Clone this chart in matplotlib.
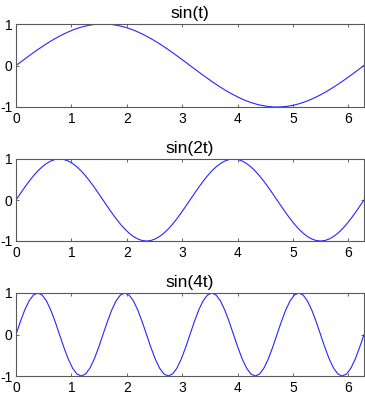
import numpy as np
import matplotlib
matplotlib.use("Agg")
import matplotlib.pyplot as plt

# t grid: 81 samples over [0, 2*pi]
t = np.linspace(0, 2 * np.pi, 81)

titles = ["sin(t)", "sin(2t)", "sin(4t)"]

sin_t = [0, .078, .156, .233, .309, .383, .454, .522, .588, .649, .707, .760, .809, .853, .891, .924, .951, .972, .988, .997, 1.0,
         .997, .988, .972, .951, .924, .891, .853, .809, .760, .707, .649, .588, .522, .454, .383, .309, .233, .156, .078, 0,
         -.078, -.156, -.233, -.309, -.383, -.454, -.522, -.588, -.649, -.707, -.760, -.809, -.853, -.891, -.924, -.951, -.972, -.988, -.997, -1.0,
         -.997, -.988, -.972, -.951, -.924, -.891, -.853, -.809, -.760, -.707, -.649, -.588, -.522, -.454, -.383, -.309, -.233, -.156, -.078, 0]

sin_2t = [0, .156, .309, .454, .588, .707, .809, .891, .951, .988, 1.0, .988, .951, .891, .809, .707, .588, .454, .309, .156,
          0, -.156, -.309, -.454, -.588, -.707, -.809, -.891, -.951, -.988, -1.0, -.988, -.951, -.891, -.809, -.707, -.588, -.454, -.309, -.156,
          0, .156, .309, .454, .588, .707, .809, .891, .951, .988, 1.0, .988, .951, .891, .809, .707, .588, .454, .309, .156,
          0, -.156, -.309, -.454, -.588, -.707, -.809, -.891, -.951, -.988, -1.0, -.988, -.951, -.891, -.809, -.707, -.588, -.454, -.309, -.156,
          0]

sin_4t = [0, .309, .588, .809, .951, 1.0, .951, .809, .588, .309, 0, -.309, -.588, -.809, -.951, -1.0, -.951, -.809, -.588, -.309,
          0, .309, .588, .809, .951, 1.0, .951, .809, .588, .309, 0, -.309, -.588, -.809, -.951, -1.0, -.951, -.809, -.588, -.309,
          0, .309, .588, .809, .951, 1.0, .951, .809, .588, .309, 0, -.309, -.588, -.809, -.951, -1.0, -.951, -.809, -.588, -.309,
          0, .309, .588, .809, .951, 1.0, .951, .809, .588, .309, 0, -.309, -.588, -.809, -.951, -1.0, -.951, -.809, -.588, -.309,
          0]

series = [sin_t, sin_2t, sin_4t]
xticks = [0, 1, 2, 3, 4, 5, 6]
xticklabels = ["0", "1", "2", "3", "4", "5", "6"]
yticks = [-1, 0, 1]
yticklabels = ["-1", "0", "1"]

plt.rcParams['font.family'] = ['Liberation Sans', 'DejaVu Sans']

W, H = 365, 393
fig = plt.figure(figsize=(W / 100, H / 100), dpi=100)

# axes boxes in pixels: (left, top, right, bottom)
boxes = [(16, 24, 364, 107), (16, 159, 364, 241), (16, 293, 364, 376)]

for (l, tp, r, b), ttl, y in zip(boxes, titles, series):
    ax = fig.add_axes([l / W, 1 - b / H, (r - l) / W, (b - tp) / H])
    ax.plot(t, y, color=(0.15, 0.15, 1.0), lw=0.8)
    ax.set_xlim(0, 2 * np.pi)
    ax.set_ylim(-1, 1)
    ax.set_xticks(xticks)
    ax.set_xticklabels(xticklabels)
    ax.set_yticks(yticks)
    ax.set_yticklabels(yticklabels)
    ax.tick_params(direction='in', length=2.5, width=0.6, color=(0.3, 0.3, 0.3),
                   labelsize=10, top=True, right=True)
    ax.tick_params(axis='x', pad=3.5)
    ax.tick_params(axis='y', pad=2.5)
    for s in ax.spines.values():
        s.set_color((0.35, 0.35, 0.35))
        s.set_linewidth(0.8)
    ax.set_title(ttl, fontsize=12.5, pad=4)

fig.savefig("out.png", dpi=100)
